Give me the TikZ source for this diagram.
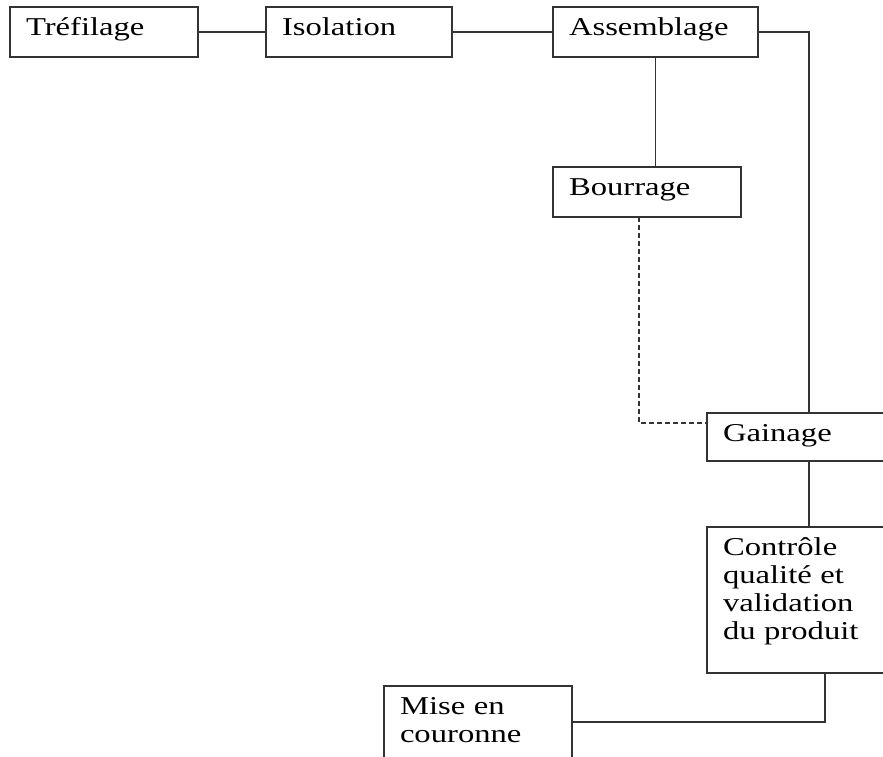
\documentclass[tikz,border=0pt]{standalone}
\usepackage{fontspec}
\setmainfont{Liberation Serif}[FakeStretch=1.27]
\usetikzlibrary{calc}
\tikzset{
    etape/.style={draw=black!80, line width=1.6pt, anchor=north west, align=left,
        inner xsep=16pt, inner ysep=0pt, outer sep=0pt, text height=28pt,
        font=\fontsize{25.7}{28}\selectfont},
    lien/.style={draw=black!80, line width=1.6pt},
    pointille/.style={lien, dash pattern=on 5pt off 3pt},
}

\begin{document}
\begin{tikzpicture}[x=1pt, y=-1pt]
    \useasboundingbox (0,0) rectangle (883,756);
    \clip (0,0) rectangle (883,756);
    \node[etape, text width=156pt, text depth=22pt] (tref) at (10,7) {Tréfilage};
    \node[etape, text width=154pt, text depth=22pt] (isol) at (266,7) {Isolation};
    \node[etape, text width=173pt, text depth=22pt] (assem) at (553,7) {Assemblage};
    \node[etape, text width=156pt, text depth=22pt] (bourr) at (553,167) {Bourrage};
    \node[etape, text width=172pt, text depth=20pt] (gain) at (707,413) {Gainage};
    \node[etape, text width=172pt, text depth=118pt] (ctrl) at (707,527) {Contrôle\\qualité et\\validation\\du produit};
    \node[etape, text width=156pt, text depth=44pt] (mise) at (384,686) {Mise en\\couronne};
    \draw[lien] (tref) -- (isol);
    \draw[lien] (isol) -- (assem);
    \draw[lien] (assem.east) -| (gain.north);
    \draw[lien] (assem.south) -- (assem.south |- bourr.north);
    \draw[pointille] ([xshift=86pt]bourr.south west) |- ([yshift=-10pt]gain.north west);
    \draw[lien] (gain) -- (ctrl);
    \draw[lien] ([xshift=118pt]ctrl.south west) |- (mise.east);
\end{tikzpicture}
\end{document}
